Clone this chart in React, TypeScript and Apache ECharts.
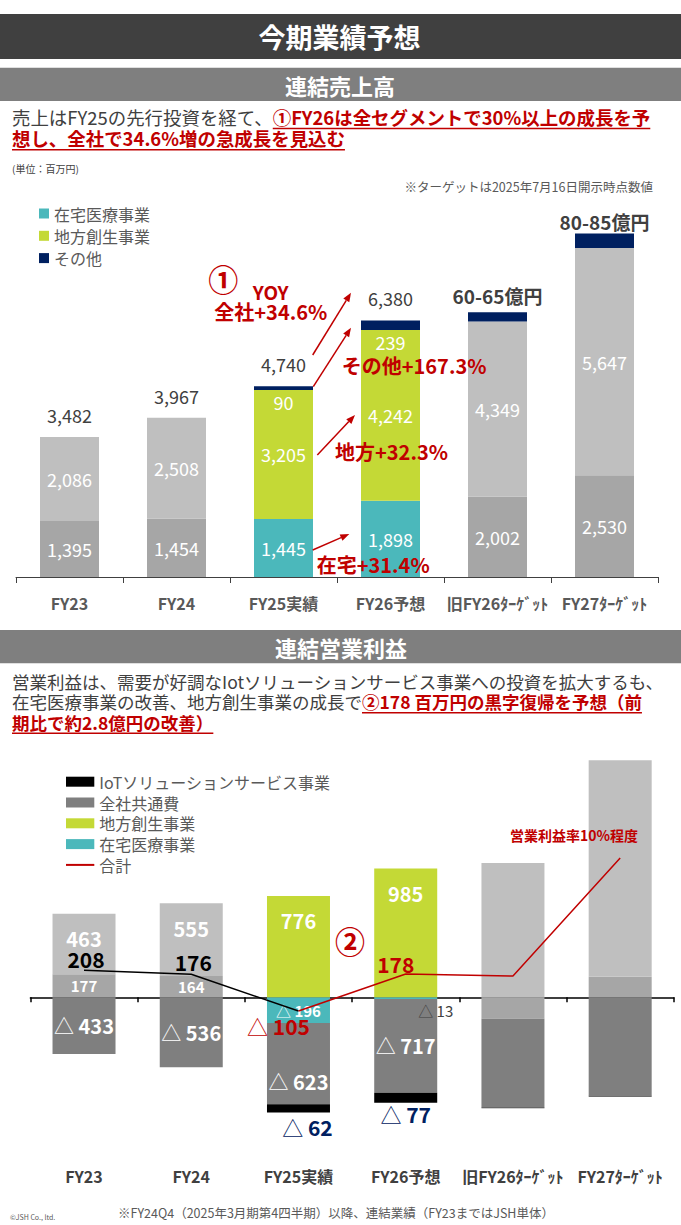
import { useEffect, useRef } from "react";
import * as echarts from "echarts";

const FONT = "Noto Sans CJK JP";
const RED = "#c00000";
const TEAL = "#4bb8bb";
const GREEN = "#c4d936";
const NAVY = "#002060";
const GRAY_L = "#bfbfbf";
const GRAY_M = "#a6a6a6";
const GRAY_D = "#7f7f7f";
const INK = "#404040";
const SUB = "#595959";

// 共通カテゴリ
const categories = ["FY23", "FY24", "FY25実績", "FY26予想", "旧FY26ﾀｰｹﾞｯﾄ", "FY27ﾀｰｹﾞｯﾄ"];
// FY25・FY26だけセグメント色、それ以外はグレー
const segmentColored = [false, false, true, true, false, false];

// 連結売上高（百万円）
const salesHome = [1395, 1454, 1445, 1898, 2002, 2530];
const salesRegion = [2086, 2508, 3205, 4242, 4349, 5647];
const salesOther = [null, null, 90, 239, 230, 360];
const salesTotals = ["3,482", "3,967", "4,740", "6,380", "60-65億円", "80-85億円"];

// 連結営業利益（百万円）
const profitHome = [177, 164, -196, -13, -165, 158];
const profitRegion = [463, 555, 776, 985, 1028, 1655];
const profitCorporate = [-433, -536, -623, -717, -676, -752];
const profitIot = [null, null, -62, -77, -8, -8];
const profitTotal = [208, 176, -105, 178, 163, 1066];
const profitLabeled = [true, true, true, true, false, false];
const splitIndex = 2; // ここまで実績（黒線）、ここから予想（赤線）

// 文章
type Seg = [string, boolean];
const para1: Seg[][] = [
  [["売上はFY25の先行投資を経て、", false], ["①FY26は全セグメントで30%以上の成長を予", true]],
  [["想し、全社で34.6%増の急成長を見込む", true]],
];
const para2: Seg[][] = [
  [["営業利益は、需要が好調なIotソリューションサービス事業への投資を拡大するも、", false]],
  [["在宅医療事業の改善、地方創生事業の成長で", false], ["②178 百万円の黒字復帰を予想（前", true]],
  [["期比で約2.8億円の改善）", true]],
];

const thousands = (v: number) => String(v).replace(/\B(?=(\d{3})+(?!\d))/g, ",");
const tri = (v: number) => (v < 0 ? `{t|△ }{n|${Math.abs(v)}}` : `{n|${v}}`);
const richFor = (size: number, color: string, weight = "bold") => ({
  t: { fontSize: size, color, fontFamily: FONT, fontWeight: "normal" },
  n: { fontSize: size, color, fontFamily: FONT, fontWeight: weight },
});

const txt = (text: string, x: number, y: number, o: any = {}) => ({
  type: "text",
  x,
  y,
  z: 100,
  silent: true,
  style: {
    text,
    fill: o.fill ?? INK,
    fontSize: o.size ?? 14,
    fontWeight: o.bold ? "bold" : "normal",
    fontFamily: FONT,
    align: o.align ?? "left",
    textAlign: o.align ?? "left",
    verticalAlign: "middle",
    textVerticalAlign: "middle",
  },
});

const arrow = (x1: number, y1: number, x2: number, y2: number) => {
  const a = Math.atan2(y2 - y1, x2 - x1);
  const bx = x2 - 9 * Math.cos(a);
  const by = y2 - 9 * Math.sin(a);
  const px = -Math.sin(a) * 3.5;
  const py = Math.cos(a) * 3.5;
  return [
    { type: "line", z: 100, silent: true, shape: { x1, y1, x2: bx, y2: by }, style: { stroke: RED, lineWidth: 1.5 } },
    {
      type: "polygon",
      z: 100,
      silent: true,
      shape: { points: [[x2, y2], [bx + px, by + py], [bx - px, by - py]] },
      style: { fill: RED },
    },
  ];
};

// 行幅に合わせて文字サイズを決め、赤字部分に下線を引く
const paragraph = (lines: Seg[][], x0: number, y0: number, gap: number, fitWidth: number) => {
  const ctx = document.createElement("canvas").getContext("2d")!;
  const fontOf = (size: number, bold: boolean) => `${bold ? "bold " : ""}${size}px "${FONT}"`;
  const measure = (t: string, size: number, bold: boolean) => {
    ctx.font = fontOf(size, bold);
    return ctx.measureText(t).width;
  };
  const w18 = lines[0].reduce((w, [t, b]) => w + measure(t, 18, b), 0);
  const size = (18 * fitWidth) / w18;
  const els: any[] = [];
  lines.forEach((segs, li) => {
    let x = x0;
    const y = y0 + li * gap;
    segs.forEach(([t, b]) => {
      const w = measure(t, size, b);
      els.push(txt(t, x, y, { size, bold: b, fill: b ? RED : INK }));
      if (b) {
        els.push({ type: "rect", z: 100, silent: true, shape: { x, y: y + size * 0.6, width: w, height: 1.5 }, style: { fill: RED } });
      }
      x += w;
    });
  });
  return els;
};

const App = () => {
  const chartRef = useRef<HTMLDivElement>(null);

  useEffect(() => {
    const myChart = echarts.init(chartRef.current, null, { renderer: "svg" });

    const graphic = [
      { type: "rect", z: 90, silent: true, shape: { x: 0, y: 14, width: 681, height: 45 }, style: { fill: "#404040" } },
      txt("今期業績予想", 339.5, 36.5, { size: 27, bold: true, fill: "#fff", align: "center" }),
      { type: "rect", z: 90, silent: true, shape: { x: 0, y: 67.7, width: 681, height: 33.3 }, style: { fill: GRAY_D } },
      txt("連結売上高", 340, 84.5, { size: 22, bold: true, fill: "#fff", align: "center" }),
      { type: "rect", z: 90, silent: true, shape: { x: 0, y: 630, width: 681, height: 33.3 }, style: { fill: GRAY_D } },
      txt("連結営業利益", 341, 647, { size: 22, bold: true, fill: "#fff", align: "center" }),
      ...paragraph(para1, 12, 116.7, 21.3, 639),
      ...paragraph(para2, 12, 681, 20.5, 652),
      txt("(単位：百万円)", 12, 168.3, { size: 10 }),
      txt("※ターゲットは2025年7月16日開示時点数値", 653, 186.7, { size: 12.5, fill: SUB, align: "right" }),
      // 売上の注記
      txt("①", 223.3, 278.3, { size: 30, bold: true, fill: RED, align: "center" }),
      txt("YOY", 270.7, 291.7, { size: 19, bold: true, fill: RED, align: "center" }),
      txt("全社+34.6%", 270.8, 311.7, { size: 20, bold: true, fill: RED, align: "center" }),
      txt("その他+167.3%", 341.7, 365, { size: 20, bold: true, fill: RED }),
      txt("地方+32.3%", 335, 451.7, { size: 20, bold: true, fill: RED }),
      txt("在宅+31.4%", 316.7, 564, { size: 20, bold: true, fill: RED }),
      ...arrow(312.7, 355, 351, 292.7),
      ...arrow(313.3, 386.7, 351, 327.7),
      ...arrow(317.3, 455, 355, 415),
      ...arrow(312.7, 550, 349.3, 534),
      // 利益の注記
      txt("②", 350, 940, { size: 30, bold: true, fill: RED, align: "center" }),
      txt("営業利益率10%程度", 574, 835, { size: 14, bold: true, fill: RED, align: "center" }),
      txt("※FY24Q4（2025年3月期第4四半期）以降、連結業績（FY23まではJSH単体）", 336, 1212, {
        size: 12.5,
        fill: SUB,
        align: "center",
      }),
      txt("©JSH Co., ltd.", 10, 1217, { size: 7, fill: SUB }),
    ];

    const barLabel = { show: true, position: "inside", color: "#fff", fontSize: 18, fontFamily: FONT };

    const option: any = {
      animation: false,
      backgroundColor: "#fff",
      textStyle: { fontFamily: FONT },
      graphic,
      legend: [
        {
          left: 39,
          top: 205.5,
          padding: 0,
          orient: "vertical",
          itemWidth: 10,
          itemHeight: 10,
          itemGap: 6.3,
          icon: "rect",
          selectedMode: false,
          textStyle: { fontSize: 16, lineHeight: 16, color: SUB, fontFamily: FONT },
          data: ["在宅医療事業", "地方創生事業", "その他"],
        },
        {
          left: 65,
          top: 773.7,
          padding: 0,
          orient: "vertical",
          itemWidth: 28.3,
          itemHeight: 10,
          itemGap: 4.8,
          selectedMode: false,
          textStyle: { fontSize: 16, lineHeight: 16, color: SUB, fontFamily: FONT },
          data: [
            { name: "IoTソリューションサービス事業", icon: "rect" },
            { name: "全社共通費", icon: "rect" },
            { name: "地方創生事業", icon: "rect" },
            { name: "在宅医療事業", icon: "rect" },
            { name: "合計", itemStyle: { opacity: 0 } },
          ],
        },
      ],
      grid: [
        { left: 16, top: 215, width: 642, height: 362, containLabel: false, outerBoundsMode: "none" },
        { left: 30.4, top: 749, width: 643.4, height: 379, containLabel: false, outerBoundsMode: "none" },
      ],
      xAxis: [
        {
          gridIndex: 0,
          type: "category",
          data: categories,
          axisLine: { lineStyle: { color: INK, width: 1 } },
          axisTick: { show: true, interval: 0, length: 6, lineStyle: { color: INK } },
          axisLabel: { interval: 0, margin: 18, color: SUB, fontWeight: "bold", fontSize: 16, fontFamily: FONT },
        },
        {
          // 利益チャートのゼロ線と目盛
          gridIndex: 1,
          type: "category",
          data: categories,
          axisLine: { onZero: true, lineStyle: { color: "#000", width: 1.5 } },
          axisTick: { show: true, interval: 0, length: 5, lineStyle: { color: "#000", width: 1.5 } },
          axisLabel: { show: false },
        },
        {
          // 利益チャートのカテゴリ名（下端）
          gridIndex: 1,
          type: "category",
          position: "bottom",
          data: categories,
          axisLine: { show: false, onZero: false },
          axisTick: { show: false },
          axisLabel: { interval: 0, margin: 40, color: INK, fontWeight: "bold", fontSize: 16, fontFamily: FONT },
        },
      ],
      yAxis: [
        { gridIndex: 0, type: "value", min: 0, max: 9000, show: false, splitLine: { show: false } },
        { gridIndex: 1, type: "value", min: -1000, max: 1900, show: false, splitLine: { show: false } },
      ],
      series: [
        // ---- 連結売上高 ----
        {
          name: "在宅医療事業",
          type: "bar",
          stack: "sales",
          xAxisIndex: 0,
          yAxisIndex: 0,
          barWidth: 59,
          itemStyle: { color: TEAL },
          label: { ...barLabel, formatter: (p: any) => thousands(p.value) },
          data: salesHome.map((v, i) => ({ value: v, itemStyle: { color: segmentColored[i] ? TEAL : GRAY_M } })),
        },
        {
          name: "地方創生事業",
          type: "bar",
          stack: "sales",
          xAxisIndex: 0,
          yAxisIndex: 0,
          barWidth: 59,
          itemStyle: { color: GREEN },
          label: { ...barLabel, formatter: (p: any) => thousands(p.value) },
          data: salesRegion.map((v, i) => ({ value: v, itemStyle: { color: segmentColored[i] ? GREEN : GRAY_L } })),
        },
        {
          name: "その他",
          type: "bar",
          stack: "sales",
          xAxisIndex: 0,
          yAxisIndex: 0,
          barWidth: 59,
          itemStyle: { color: NAVY },
          label: { ...barLabel, position: "bottom", distance: 3, formatter: (p: any) => thousands(p.value) },
          data: salesOther.map((v, i) => ({ value: v, label: { show: segmentColored[i] } })),
        },
        {
          name: "売上合計",
          type: "bar",
          stack: "sales",
          xAxisIndex: 0,
          yAxisIndex: 0,
          barWidth: 59,
          itemStyle: { color: "transparent" },
          label: {
            show: true,
            position: "top",
            distance: 13,
            color: INK,
            fontSize: 18,
            fontFamily: FONT,
            formatter: (p: any) => salesTotals[p.dataIndex],
          },
          data: salesTotals.map((_, i) =>
            i < 4
              ? { value: 0 }
              : { value: 0, label: { distance: i === 4 ? 7 : 2.5, fontSize: 19, fontWeight: "bold" } }
          ),
        },
        // ---- 連結営業利益 ----
        {
          name: "在宅医療事業",
          type: "bar",
          stack: "profit",
          xAxisIndex: 1,
          yAxisIndex: 1,
          barWidth: 63,
          itemStyle: { color: TEAL },
          label: { show: true, position: "inside", formatter: (p: any) => tri(p.value), rich: richFor(15, "#fff") },
          data: profitHome.map((v, i) => ({
            value: v,
            itemStyle: { color: segmentColored[i] ? TEAL : GRAY_M },
            label:
              i === 3
                ? { show: true, offset: [30, 12], rich: richFor(15, INK, "normal") }
                : { show: profitLabeled[i] },
          })),
        },
        {
          name: "地方創生事業",
          type: "bar",
          stack: "profit",
          xAxisIndex: 1,
          yAxisIndex: 1,
          barWidth: 63,
          itemStyle: { color: GREEN },
          label: {
            show: true,
            position: "insideTop",
            distance: 15,
            formatter: (p: any) => tri(p.value),
            rich: richFor(20, "#fff"),
          },
          data: profitRegion.map((v, i) => ({
            value: v,
            itemStyle: { color: segmentColored[i] ? GREEN : GRAY_L },
            label: { show: profitLabeled[i] },
          })),
        },
        {
          name: "全社共通費",
          type: "bar",
          stack: "profit",
          xAxisIndex: 1,
          yAxisIndex: 1,
          barWidth: 63,
          itemStyle: { color: GRAY_D },
          label: { show: true, position: "inside", formatter: (p: any) => tri(p.value), rich: richFor(20, "#fff") },
          data: profitCorporate.map((v, i) => ({
            value: v,
            label: i === 2 ? { show: true, offset: [0, 18] } : { show: profitLabeled[i] },
          })),
        },
        {
          name: "IoTソリューションサービス事業",
          type: "bar",
          stack: "profit",
          xAxisIndex: 1,
          yAxisIndex: 1,
          barWidth: 63,
          itemStyle: { color: "#000" },
          label: { show: true, position: "inside", formatter: (p: any) => tri(p.value), rich: richFor(21, NAVY) },
          data: profitIot.map((v, i) => ({
            value: v,
            itemStyle: { color: segmentColored[i] ? "#000" : "#404040" },
            label: i === 2 ? { show: true, offset: [9, 19] } : i === 3 ? { show: true, offset: [0, 16] } : { show: false },
          })),
        },
        {
          name: "合計実績",
          type: "line",
          xAxisIndex: 1,
          yAxisIndex: 1,
          z: 10,
          symbol: "circle",
          symbolSize: 0,
          lineStyle: { color: "#000", width: 1.5 },
          itemStyle: { color: "#000" },
          label: { show: true, position: "inside", formatter: (p: any) => tri(p.value), rich: richFor(21, "#000") },
          data: profitTotal.map((v, i) =>
            i > splitIndex
              ? { value: null }
              : { value: v, label: i < splitIndex ? { show: true, offset: [2, i === 0 ? -11 : -12.5] } : { show: false } }
          ),
        },
        {
          name: "合計",
          type: "line",
          xAxisIndex: 1,
          yAxisIndex: 1,
          z: 10,
          symbol: "circle",
          symbolSize: 0,
          lineStyle: { color: RED, width: 1.5 },
          itemStyle: { color: RED },
          label: { show: true, position: "inside", formatter: (p: any) => tri(p.value), rich: richFor(21, RED) },
          data: profitTotal.map((v, i) =>
            i < splitIndex
              ? { value: null }
              : {
                  value: v,
                  label:
                    i === splitIndex
                      ? { show: true, offset: [-20, 15] }
                      : i === splitIndex + 1
                        ? { show: true, offset: [-10, -10] }
                        : { show: false },
                }
          ),
        },
      ],
    };

    myChart.setOption(option);

    return () => {
      myChart.dispose();
    };
  }, []);

  return (
    <div
      ref={chartRef}
      style={{ position: "absolute", left: 0, top: 0, width: "681px", height: "1225px" }}
    ></div>
  );
};

export default App;
